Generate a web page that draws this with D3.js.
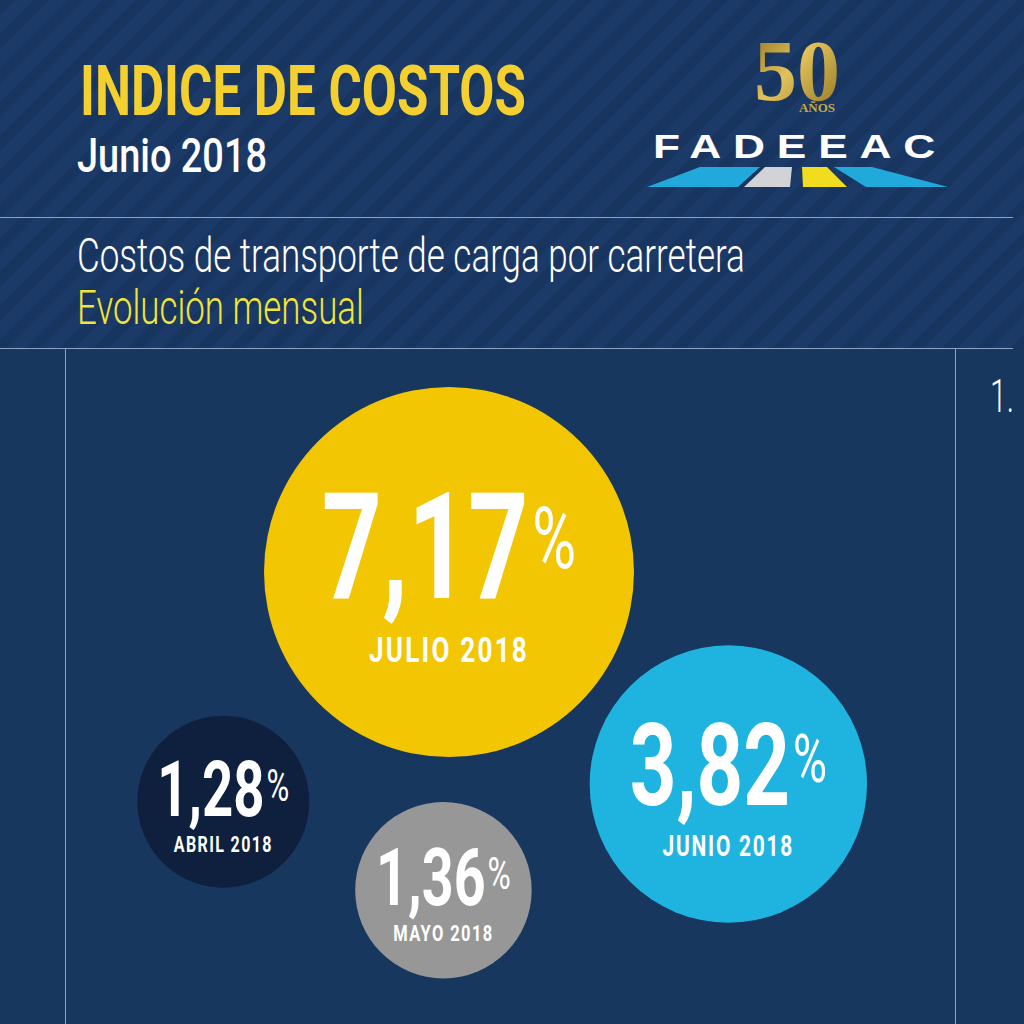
<!DOCTYPE html>
<html>
<head>
<meta charset="utf-8">
<script src="https://cdn.jsdelivr.net/npm/d3@7"></script>
<style>
  html, body { margin: 0; padding: 0; background: #17375f; }
  svg { display: block; }
</style>
</head>
<body>
<svg id="chart" width="1024" height="1024"></svg>
<script>
// datos: variacion mensual del indice de costos
var meses = ["ABRIL 2018", "MAYO 2018", "JUNIO 2018", "JULIO 2018"];
var valores = [1.28, 1.36, 3.82, 7.17];
var colores = ["#0e203e", "#979797", "#1fb4e0", "#f2c603"];

// ubicacion de las burbujas chicas alrededor de la grande (grados, separacion)
var anguloOrbita = [224.5, 181, 127.2, 0];
var separacion = [51, 45, 27, 0];

var width = 1024, height = 1024;
var svg = d3.select("#chart");
var defs = svg.append("defs");

// fondo rayado del encabezado
var pat = defs.append("pattern")
    .attr("id", "rayas")
    .attr("patternUnits", "userSpaceOnUse")
    .attr("width", 24).attr("height", 24)
    .attr("patternTransform", "rotate(45)");
pat.append("rect").attr("width", 24).attr("height", 24).attr("fill", "#1b3a68");
pat.append("rect").attr("width", 11).attr("height", 24).attr("fill", "#183560");

var oro = defs.append("linearGradient").attr("id", "oro")
    .attr("x1", 0).attr("y1", 0).attr("x2", 1).attr("y2", 1);
oro.append("stop").attr("offset", "0%").attr("stop-color", "#8a6d1c");
oro.append("stop").attr("offset", "45%").attr("stop-color", "#e2c25a");
oro.append("stop").attr("offset", "100%").attr("stop-color", "#8c6f1e");

svg.append("rect").attr("width", width).attr("height", height).attr("fill", "#17375f");
svg.append("rect").attr("width", width).attr("height", 348).attr("fill", "url(#rayas)");

// lineas divisorias
var lineColor = "#8ea2c4";
svg.append("line").attr("x1", 0).attr("x2", 1013).attr("y1", 217.5).attr("y2", 217.5)
    .attr("stroke", lineColor).attr("stroke-width", 1.2);
svg.append("line").attr("x1", 0).attr("x2", 1013).attr("y1", 348.5).attr("y2", 348.5)
    .attr("stroke", lineColor).attr("stroke-width", 1.2);
svg.append("line").attr("x1", 65.5).attr("x2", 65.5).attr("y1", 349).attr("y2", height)
    .attr("stroke", lineColor).attr("stroke-width", 1);
svg.append("line").attr("x1", 955.5).attr("x2", 955.5).attr("y1", 349).attr("y2", height)
    .attr("stroke", lineColor).attr("stroke-width", 1);

// texto angosto: se comprime horizontalmente hasta el ancho buscado
function textoAngosto(parent, x, y, txt, opts) {
    var g = parent.append("g");
    var t = g.append("text")
        .attr("x", 0).attr("y", 0)
        .attr("text-anchor", opts.anchor || "start")
        .style("font-family", opts.family || "Roboto")
        .style("font-size", opts.size + "px")
        .style("font-weight", opts.weight || 400)
        .style("letter-spacing", opts.spacing || "0px")
        .attr("fill", opts.fill || "#fff")
        .text(txt);
    var w = t.node().getBBox().width;
    g.attr("transform", "translate(" + x + "," + y + ") scale(" + (opts.width / w) + ",1)");
    return t;
}

// encabezado
textoAngosto(svg, 80, 115, "INDICE DE COSTOS", { size: 70, weight: 700, fill: "#f3d02f", width: 446 });
textoAngosto(svg, 77, 172, "Junio 2018", { size: 49, weight: 500, fill: "#ffffff", width: 190 });
textoAngosto(svg, 77, 272, "Costos de transporte de carga por carretera", { size: 48, weight: 300, fill: "#ffffff", width: 668 });
textoAngosto(svg, 77, 324, "Evolución mensual", { size: 48, weight: 300, fill: "#f1e43a", width: 287 });
textoAngosto(svg, 990, 412, "1.", { size: 46, weight: 300, fill: "#ffffff", width: 24 });

// logo 50 años FADEEAC
var logo = svg.append("g");
logo.append("text").attr("x", 797).attr("y", 100).attr("text-anchor", "middle")
    .style("font-family", "Liberation Serif").style("font-size", "86px").style("font-weight", 700)
    .attr("fill", "url(#oro)").text("50");
logo.append("text").attr("x", 817).attr("y", 112).attr("text-anchor", "middle")
    .style("font-family", "Liberation Serif").style("font-size", "13px").style("font-weight", 700)
    .attr("fill", "#c9a842").text("AÑOS");
textoAngosto(logo, 653, 158, "FADEEAC", {
    family: "Liberation Sans", size: 34, weight: 700, spacing: "9px", fill: "#ffffff", width: 294
});
var franjas = [
    { pts: [[700, 167], [760, 167], [738, 187], [647, 187]], fill: "#22a9dc" },
    { pts: [[765, 167], [792, 167], [790, 187], [744, 187]], fill: "#d2d3d6" },
    { pts: [[802, 167], [827, 167], [847, 187], [803, 187]], fill: "#f1dc1e" },
    { pts: [[834, 167], [872, 167], [948, 187], [866, 187]], fill: "#22a9dc" }
];
logo.selectAll("path.franja").data(franjas).enter().append("path")
    .attr("class", "franja")
    .attr("d", function (d) { return d3.line()(d.pts) + "Z"; })
    .attr("fill", function (d) { return d.fill; });

// escalas de las burbujas
var radio = d3.scaleSqrt().domain([1.28, 7.17]).range([86, 185]);
var altoValor = d3.scaleSqrt().domain([1.28, 7.17]).range([55, 106]);
var altoMes = d3.scaleSqrt().domain([1.28, 7.17]).range([15.5, 25]);
var fmt = function (v) { return d3.format(".2f")(v).replace(".", ","); };

var iMax = d3.maxIndex(valores);
var centro = [449, 572];

var burbujas = valores.map(function (v, i) {
    var r = radio(v);
    var p = centro;
    if (i !== iMax) {
        var dist = radio(valores[iMax]) + r + separacion[i];
        var off = d3.pointRadial(anguloOrbita[i] * Math.PI / 180, dist);
        p = [centro[0] + off[0], centro[1] + off[1]];
    }
    return { mes: meses[i], valor: v, color: colores[i], r: r, x: p[0], y: p[1] };
});

var nodos = svg.selectAll("g.burbuja").data(burbujas).enter().append("g")
    .attr("class", "burbuja");

nodos.append("circle")
    .attr("cx", function (d) { return d.x; })
    .attr("cy", function (d) { return d.y; })
    .attr("r", function (d) { return d.r; })
    .attr("fill", function (d) { return d.color; });

nodos.each(function (d) {
    var g = d3.select(this);
    var cap = altoValor(d.valor);
    var capMes = altoMes(d.valor);
    var hueco = 0.37 * cap;
    var alto = cap + hueco + capMes;
    var top = d.y + 5 - alto / 2;
    var baseValor = top + cap;
    var baseMes = baseValor + hueco + capMes;
    var fs = cap / 0.711;

    var gv = g.append("g");
    var t = gv.append("text")
        .attr("text-anchor", "middle")
        .style("font-family", "Roboto")
        .attr("fill", "#ffffff");
    t.append("tspan").style("font-size", fs + "px").style("font-weight", 700)
        .text(fmt(d.valor));
    t.append("tspan").style("font-size", (fs * 0.57) + "px").style("font-weight", 400)
        .attr("dx", cap * 0.05)
        .attr("dy", -cap * 0.28)
        .text("%");
    var w = t.node().getBBox().width;
    gv.attr("transform", "translate(" + d.x + "," + baseValor + ") scale(" + (2.4 * cap / w) + ",1)");

    textoAngosto(g, d.x, baseMes, d.mes, {
        anchor: "middle", size: capMes / 0.711, weight: 700,
        spacing: (capMes * 0.12) + "px", fill: "#ffffff", width: 6.4 * capMes
    });
});
</script>
</body>
</html>
